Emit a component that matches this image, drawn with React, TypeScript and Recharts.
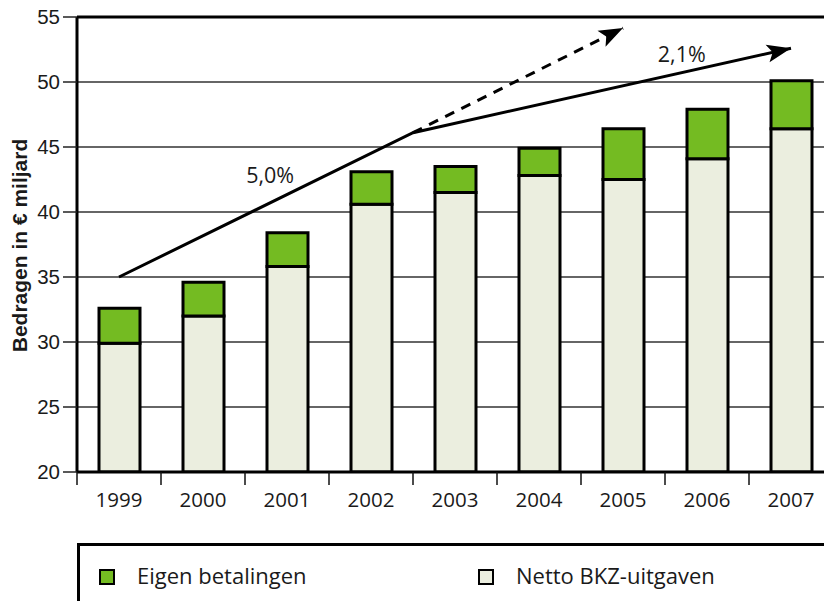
import { Bar, CartesianGrid, ComposedChart, Legend, Line, ReferenceDot, ReferenceLine, XAxis, YAxis } from "recharts";

const years = [1999, 2000, 2001, 2002, 2003, 2004, 2005, 2006, 2007];
const netto = [29.9, 32.0, 35.8, 40.6, 41.5, 42.8, 42.5, 44.1, 46.4];
const eigen = [2.7, 2.6, 2.6, 2.5, 2.0, 2.1, 3.9, 3.8, 3.7];

const yTicks = [20, 25, 30, 35, 40, 45, 50, 55];
// ticks at the year (label) and at the band edges (tick mark)
const xTicks = [1998.5, 1999, 1999.5, 2000, 2000.5, 2001, 2001.5, 2002, 2002.5, 2003, 2003.5, 2004, 2004.5, 2005, 2005.5, 2006, 2006.5, 2007, 2007.5];

// trend arrows
const solidYears = [1999, 2002.5, 2007];
const solidValues = [35, 46.1, 52.6];
const dashedYears = [2002.5, 2005];
const dashedValues = [46.1, 54.15];

const growthLabels = ["5,0%", "2,1%"];
const growthAt = [
  { year: 2000.8, value: 42.8 },
  { year: 2005.7, value: 52.1 },
];

const data = years.map((year, i) => ({ year, netto: netto[i], eigen: eigen[i] }));
const solidData = solidYears.map((year, i) => ({ year, trend: solidValues[i] }));
const dashedData = dashedYears.map((year, i) => ({ year, trend: dashedValues[i] }));

const GREEN = "#74bb22";
const CREAM = "#ebeedf";
const SANS = "'Open Sans', sans-serif";

const renderArrow = (props: any) => {
  const { cx, cy, index, points } = props;
  const key = `arrow-${index}`;
  if (!points || index !== points.length - 1 || index === 0) return <g key={key} />;
  const prev = points[index - 1];
  const a = Math.atan2(cy - prev.y, cx - prev.x);
  const L = 24;
  const W = 9;
  const c = Math.cos(a);
  const s = Math.sin(a);
  const bx = cx - L * c;
  const by = cy - L * s;
  const nx = cx - L * 0.78 * c;
  const ny = cy - L * 0.78 * s;
  const pts = [
    [cx, cy],
    [bx - W * s, by + W * c],
    [nx, ny],
    [bx + W * s, by - W * c],
  ]
    .map((p) => p.join(","))
    .join(" ");
  return <polygon key={key} points={pts} fill="#000" stroke="none" />;
};

const YearTick = (props: any) => {
  const { x, y, payload } = props;
  const v = payload.value;
  if (Number.isInteger(v)) {
    return (
      <text x={x} y={y + 35} textAnchor="middle" fontSize={20.5} fontFamily={SANS} fill="#1a1a1a">
        {v}
      </text>
    );
  }
  return <line x1={x} x2={x} y1={y} y2={y + 13} stroke="#111" strokeWidth={1.5} />;
};

const YLabel = (props: any) => {
  const vb = props.viewBox || { x: 0, y: 17, height: 455 };
  const x = vb.x + 27;
  const y = vb.y + vb.height / 2 + 1;
  return (
    <text
      x={x}
      y={y}
      transform={`rotate(-90, ${x}, ${y})`}
      textAnchor="middle"
      fontSize={21}
      fontWeight="bold"
      fontFamily="'Liberation Sans', Arial, sans-serif"
      fill="#1a1a1a"
    >
      Bedragen in € miljard
    </text>
  );
};

const legendOrder = ["Eigen betalingen", "Netto BKZ-uitgaven"];
const legendX = [19, 398];

const LegendBox = (props: any) => {
  const items = (props.payload || [])
    .filter((p: any) => legendOrder.includes(p.value))
    .sort((a: any, b: any) => legendOrder.indexOf(a.value) - legendOrder.indexOf(b.value));
  return (
    <div style={{ position: "relative", width: "100%", height: "100%" }}>
      {items.map((item: any, i: number) => (
        <div key={item.value} style={{ position: "absolute", left: legendX[i], top: 22 }}>
          <span
            style={{
              position: "absolute",
              left: 0,
              top: 1,
              width: 12,
              height: 12,
              background: item.color,
              border: "2px solid #000",
            }}
          />
          <span
            style={{
              position: "absolute",
              left: 38,
              top: -7,
              whiteSpace: "nowrap",
              fontFamily: SANS,
              fontSize: 22,
              lineHeight: "28px",
              color: "#1a1a1a",
            }}
          >
            {item.value}
          </span>
        </div>
      ))}
    </div>
  );
};

export default function App() {
  return (
    <div style={{ position: "fixed", left: 0, top: 0, width: 824, height: 601, overflow: "hidden", background: "#fff" }}>
      <ComposedChart width={850} height={601} data={data} margin={{ top: 17, right: 17, bottom: 69, left: 0 }}>
        <CartesianGrid vertical={false} stroke="#333" strokeWidth={1.5} />
        <XAxis
          dataKey="year"
          type="number"
          domain={[1998.5, 2007.5]}
          allowDataOverflow
          ticks={xTicks}
          interval={0}
          tick={<YearTick />}
          tickLine={false}
          tickSize={0}
          tickMargin={0}
          height={60}
          axisLine={{ stroke: "#000", strokeWidth: 3 }}
        />
        <YAxis
          type="number"
          domain={[20, 55]}
          ticks={yTicks}
          allowDataOverflow
          width={77}
          tickSize={14}
          tickMargin={3}
          tickLine={{ stroke: "#222", strokeWidth: 1.5 }}
          axisLine={{ stroke: "#000", strokeWidth: 3 }}
          tick={{ fontSize: 20.5, fontFamily: "'Liberation Sans', Arial, sans-serif", fill: "#1a1a1a" }}
          label={<YLabel />}
        />
        <ReferenceLine y={55} stroke="#000" strokeWidth={3} />
        <Bar dataKey="netto" name="Netto BKZ-uitgaven" stackId="a" fill={CREAM} stroke="#000" strokeWidth={3} barSize={41} isAnimationActive={false} />
        <Bar dataKey="eigen" name="Eigen betalingen" stackId="a" fill={GREEN} stroke="#000" strokeWidth={3} barSize={41} isAnimationActive={false} />
        <Line
          data={solidData}
          dataKey="trend"
          type="linear"
          stroke="#000"
          strokeWidth={3}
          dot={renderArrow}
          activeDot={false}
          legendType="none"
          isAnimationActive={false}
        />
        <Line
          data={dashedData}
          dataKey="trend"
          type="linear"
          stroke="#000"
          strokeWidth={3}
          strokeDasharray="10 8"
          dot={renderArrow}
          activeDot={false}
          legendType="none"
          isAnimationActive={false}
        />
        {growthLabels.map((text, i) => (
          <ReferenceDot
            key={text}
            x={growthAt[i].year}
            y={growthAt[i].value}
            r={0}
            fill="none"
            stroke="none"
            label={{ value: text, position: "center", fontSize: 21.5, fontFamily: SANS, fill: "#1a1a1a" }}
          />
        ))}
        <Legend
          layout="horizontal"
          verticalAlign="middle"
          align="center"
          content={<LegendBox />}
          wrapperStyle={{
            position: "absolute",
            left: 77,
            top: 543,
            width: 800,
            height: 90,
            border: "3px solid #000",
            background: "#fff",
            boxSizing: "border-box",
          }}
        />
      </ComposedChart>
    </div>
  );
}
